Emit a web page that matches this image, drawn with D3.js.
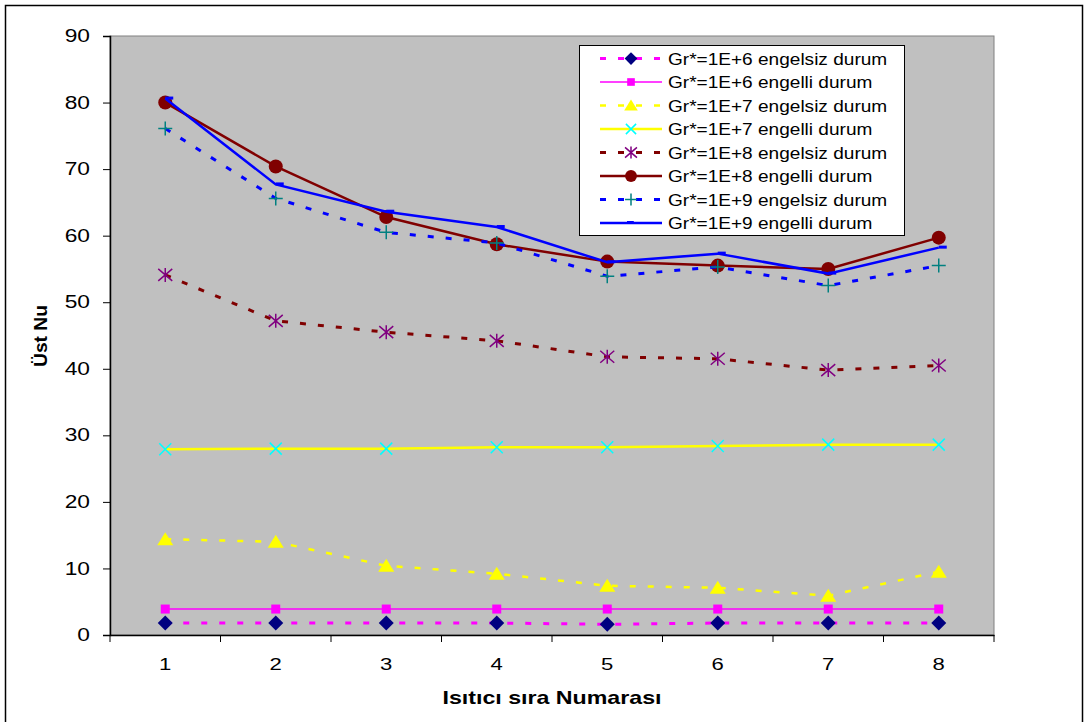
<!DOCTYPE html>
<html><head><meta charset="utf-8">
<script src="https://cdn.jsdelivr.net/npm/d3@7"></script>
<style>body{margin:0;background:#fff}svg{display:block;font-family:"Liberation Sans",Arial,sans-serif}</style>
</head><body>
<svg id="c" width="1084" height="722"></svg>
<script>
const categories = [1,2,3,4,5,6,7,8];
const yTicks = [0,10,20,30,40,50,60,70,80,90];
const seriesNames = [
  "Gr*=1E+6 engelsiz durum","Gr*=1E+6 engelli durum",
  "Gr*=1E+7 engelsiz durum","Gr*=1E+7 engelli durum",
  "Gr*=1E+8 engelsiz durum","Gr*=1E+8 engelli durum",
  "Gr*=1E+9 engelsiz durum","Gr*=1E+9 engelli durum"];
const gr6Engelsiz = [1.8,1.8,1.8,1.8,1.6,1.8,1.8,1.8];
const gr6Engelli  = [3.9,3.9,3.9,3.9,3.9,3.9,3.9,3.9];
const gr7Engelsiz = [14.4,14.0,10.4,9.2,7.4,7.1,5.9,9.5];
const gr7Engelli  = [27.9,28.0,28.0,28.2,28.2,28.4,28.6,28.6];
const gr8Engelsiz = [54.1,47.2,45.5,44.2,41.8,41.5,39.8,40.5];
const gr8Engelli  = [80.0,70.4,62.8,58.7,56.1,55.5,55.0,59.7];
const gr9Engelsiz = [76.1,65.6,60.5,58.9,53.9,55.3,52.5,55.5];
const gr9Engelli  = [80.6,67.7,63.6,61.3,56.0,57.3,54.3,58.2];

const styles = [
  {line:"#FF00FF", w:3,   dash:"6,12", marker:"diamond", fill:"#000080"},
  {line:"#FF00FF", w:1.5, dash:null,   marker:"square",  fill:"#FF00FF"},
  {line:"#FFFF00", w:2.5, dash:"6,12", marker:"triangle",fill:"#FFFF00"},
  {line:"#FFFF00", w:2.5, dash:null,   marker:"x",       fill:"#00FFFF"},
  {line:"#800000", w:3,   dash:"6,12", marker:"star",    fill:"#800080"},
  {line:"#800000", w:2.5, dash:null,   marker:"circle",  fill:"#800000"},
  {line:"#0000FF", w:3,   dash:"6,12", marker:"plus",    fill:"#008080"},
  {line:"#0000FF", w:2.5, dash:null,   marker:"dash",    fill:"#0000FF"}
];
const allSeries = [gr6Engelsiz,gr6Engelli,gr7Engelsiz,gr7Engelli,gr8Engelsiz,gr8Engelli,gr9Engelsiz,gr9Engelli];

const svg = d3.select("#c");
const L=110, R=994, T=36, B=635;
const x = d3.scaleBand().domain(categories).range([L,R]);
const y = d3.scaleLinear().domain([0,90]).range([B,T]);

// stretch text horizontally (the reference glyphs are wider than normal)
function stretch(sel, sx){
  sel.each(function(){
    const w = this.getComputedTextLength();
    d3.select(this).attr("textLength", w*sx).attr("lengthAdjust","spacingAndGlyphs");
  });
}

// outer frame
svg.append("rect").attr("x",5.5).attr("y",5.5).attr("width",1077).attr("height",730)
  .attr("fill","#fff").attr("stroke","#000").attr("stroke-width",1.5);
// plot area
svg.append("rect").attr("x",L).attr("y",T).attr("width",R-L).attr("height",B-T)
  .attr("fill","#C0C0C0").attr("stroke","#808080").attr("stroke-width",1);

// y axis
const yAxis = svg.append("g").attr("transform",`translate(${L},0)`)
  .call(d3.axisLeft(y).tickValues(yTicks).tickSize(7).tickPadding(13));
yAxis.select(".domain").attr("stroke","#000").attr("stroke-width",1.5);
yAxis.selectAll(".tick line").attr("stroke","#000");
yAxis.selectAll("text").attr("font-size",17.5).attr("font-family","Liberation Sans, Arial").attr("fill","#000")
  .call(stretch,1.3);

// x axis
const xAxis = svg.append("g").attr("transform",`translate(0,${B})`)
  .call(d3.axisBottom(x).tickSize(0).tickPadding(23));
xAxis.select(".domain").attr("stroke","#000").attr("stroke-width",1.5);
xAxis.selectAll("text").attr("font-size",17).attr("font-family","Liberation Sans, Arial").attr("fill","#000")
  .call(stretch,1.3);
// x tick marks at category boundaries
const bounds = categories.map(c=>x(c)).concat([x(categories[categories.length-1])+x.bandwidth()]);
xAxis.selectAll(".bnd").data(bounds).enter().append("line").attr("class","bnd")
  .attr("x1",d=>d).attr("x2",d=>d).attr("y1",0).attr("y2",7).attr("stroke","#000").attr("stroke-width",1);

// titles
svg.append("text").attr("x",552).attr("y",703.5).attr("text-anchor","middle")
  .attr("font-weight","bold").attr("font-size",19).text("Isıtıcı sıra Numarası")
  .attr("textLength",219).attr("lengthAdjust","spacingAndGlyphs");
svg.append("text").attr("transform","translate(47,336) rotate(-90)").attr("text-anchor","middle")
  .attr("font-weight","bold").attr("font-size",18.5).text("Üst Nu")
  .attr("textLength",62).attr("lengthAdjust","spacingAndGlyphs");

function drawMarker(g, type, cx, cy, color, s){
  s = s||1;
  if(type==="diamond"){
    g.append("path").attr("d",`M${cx},${cy-7.5*s}L${cx+7.5*s},${cy}L${cx},${cy+7.5*s}L${cx-7.5*s},${cy}Z`).attr("fill",color);
  } else if(type==="square"){
    g.append("rect").attr("x",cx-4.5*s).attr("y",cy-4.5*s).attr("width",9*s).attr("height",9*s).attr("fill",color);
  } else if(type==="triangle"){
    g.append("path").attr("d",`M${cx},${cy-7*s}L${cx+8*s},${cy+6*s}L${cx-8*s},${cy+6*s}Z`).attr("fill",color);
  } else if(type==="x"){
    g.append("path").attr("d",`M${cx-6*s},${cy-6*s}L${cx+6*s},${cy+6*s}M${cx+6*s},${cy-6*s}L${cx-6*s},${cy+6*s}`)
      .attr("stroke",color).attr("stroke-width",1.5).attr("fill","none");
  } else if(type==="star"){
    g.append("path").attr("d",`M${cx-7*s},${cy-6*s}L${cx+7*s},${cy+6*s}M${cx+7*s},${cy-6*s}L${cx-7*s},${cy+6*s}M${cx},${cy-7*s}L${cx},${cy+7*s}`)
      .attr("stroke",color).attr("stroke-width",1.5).attr("fill","none");
  } else if(type==="circle"){
    g.append("circle").attr("cx",cx).attr("cy",cy).attr("r",7*s).attr("fill",color);
  } else if(type==="plus"){
    g.append("path").attr("d",`M${cx-7*s},${cy}L${cx+7*s},${cy}M${cx},${cy-7*s}L${cx},${cy+7*s}`)
      .attr("stroke",color).attr("stroke-width",1.5).attr("fill","none");
  } else if(type==="dash"){
    g.append("rect").attr("x",cx).attr("y",cy-2).attr("width",8*s).attr("height",3).attr("fill",color);
  }
}

const cx = c => x(c) + x.bandwidth()/2;
const line = d3.line().x((d,i)=>cx(categories[i])).y(d=>y(d));
const plot = svg.append("g");
allSeries.forEach((vals,k)=>{
  const st = styles[k];
  const g = plot.append("g");
  g.append("path").attr("d",line(vals)).attr("fill","none").attr("stroke",st.line)
    .attr("stroke-width",st.w).attr("stroke-dasharray",st.dash);
  vals.forEach((v,i)=>drawMarker(g, st.marker, cx(categories[i]), y(v), st.fill));
});

// legend
const lg = svg.append("g");
lg.append("rect").attr("x",579.5).attr("y",45.5).attr("width",325).attr("height",190)
  .attr("fill","#fff").attr("stroke","#000").attr("stroke-width",1);
seriesNames.forEach((name,k)=>{
  const st = styles[k];
  const yy = 58.5 + k*23.5;
  lg.append("line").attr("x1",600).attr("x2",662).attr("y1",yy).attr("y2",yy)
    .attr("stroke",st.line).attr("stroke-width",st.w).attr("stroke-dasharray",st.dash);
  drawMarker(lg, st.marker, st.marker==="dash"?627:631, yy, st.fill, 0.85);
  lg.append("text").attr("x",668).attr("y",yy+6).attr("font-size",16.3).text(name).call(stretch,1.17);
});
</script>
</body></html>
